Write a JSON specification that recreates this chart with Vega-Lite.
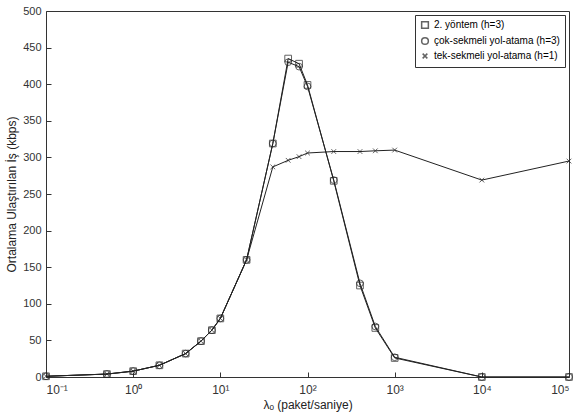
{
  "$schema": "https://vega.github.io/schema/vega-lite/v6.json",
  "width": 580,
  "height": 415,
  "autosize": {"type": "fit", "contains": "padding"},
  "background": "white",
  "config": {
    "font": "Liberation Sans",
    "view": {"stroke": "#333", "strokeWidth": 1},
    "axis": {"grid": false, "domain": false, "tickColor": "#333", "tickSize": -5, "labelPadding": 10, "labelColor": "#333", "titleColor": "#222", "labelFontSize": 11, "titleFontSize": 12, "titleFontWeight": "normal"}
  },
  "data": {
    "values": [
      {"x": 0.1, "y": 1, "s": "2. yöntem (h=3)"},
      {"x": 0.5, "y": 4, "s": "2. yöntem (h=3)"},
      {"x": 1, "y": 8, "s": "2. yöntem (h=3)"},
      {"x": 2, "y": 16, "s": "2. yöntem (h=3)"},
      {"x": 4, "y": 32, "s": "2. yöntem (h=3)"},
      {"x": 6, "y": 49, "s": "2. yöntem (h=3)"},
      {"x": 8, "y": 64, "s": "2. yöntem (h=3)"},
      {"x": 10, "y": 80, "s": "2. yöntem (h=3)"},
      {"x": 20, "y": 160, "s": "2. yöntem (h=3)"},
      {"x": 40, "y": 319, "s": "2. yöntem (h=3)"},
      {"x": 60, "y": 435, "s": "2. yöntem (h=3)"},
      {"x": 80, "y": 428, "s": "2. yöntem (h=3)"},
      {"x": 100, "y": 399, "s": "2. yöntem (h=3)"},
      {"x": 200, "y": 268, "s": "2. yöntem (h=3)"},
      {"x": 400, "y": 125, "s": "2. yöntem (h=3)"},
      {"x": 600, "y": 67, "s": "2. yöntem (h=3)"},
      {"x": 1000, "y": 26, "s": "2. yöntem (h=3)"},
      {"x": 10000, "y": 0, "s": "2. yöntem (h=3)"},
      {"x": 100000, "y": 0, "s": "2. yöntem (h=3)"},
      {"x": 0.1, "y": 1, "s": "çok-sekmeli yol-atama (h=3)"},
      {"x": 0.5, "y": 4, "s": "çok-sekmeli yol-atama (h=3)"},
      {"x": 1, "y": 8, "s": "çok-sekmeli yol-atama (h=3)"},
      {"x": 2, "y": 16, "s": "çok-sekmeli yol-atama (h=3)"},
      {"x": 4, "y": 32, "s": "çok-sekmeli yol-atama (h=3)"},
      {"x": 6, "y": 49, "s": "çok-sekmeli yol-atama (h=3)"},
      {"x": 8, "y": 64, "s": "çok-sekmeli yol-atama (h=3)"},
      {"x": 10, "y": 80, "s": "çok-sekmeli yol-atama (h=3)"},
      {"x": 20, "y": 160, "s": "çok-sekmeli yol-atama (h=3)"},
      {"x": 40, "y": 319, "s": "çok-sekmeli yol-atama (h=3)"},
      {"x": 60, "y": 430, "s": "çok-sekmeli yol-atama (h=3)"},
      {"x": 80, "y": 424, "s": "çok-sekmeli yol-atama (h=3)"},
      {"x": 100, "y": 397, "s": "çok-sekmeli yol-atama (h=3)"},
      {"x": 200, "y": 269, "s": "çok-sekmeli yol-atama (h=3)"},
      {"x": 400, "y": 128, "s": "çok-sekmeli yol-atama (h=3)"},
      {"x": 600, "y": 69, "s": "çok-sekmeli yol-atama (h=3)"},
      {"x": 1000, "y": 27, "s": "çok-sekmeli yol-atama (h=3)"},
      {"x": 10000, "y": 0, "s": "çok-sekmeli yol-atama (h=3)"},
      {"x": 100000, "y": 0, "s": "çok-sekmeli yol-atama (h=3)"},
      {"x": 0.1, "y": 1, "s": "tek-sekmeli yol-atama (h=1)"},
      {"x": 0.5, "y": 4, "s": "tek-sekmeli yol-atama (h=1)"},
      {"x": 1, "y": 8, "s": "tek-sekmeli yol-atama (h=1)"},
      {"x": 2, "y": 16, "s": "tek-sekmeli yol-atama (h=1)"},
      {"x": 4, "y": 32, "s": "tek-sekmeli yol-atama (h=1)"},
      {"x": 6, "y": 49, "s": "tek-sekmeli yol-atama (h=1)"},
      {"x": 8, "y": 64, "s": "tek-sekmeli yol-atama (h=1)"},
      {"x": 10, "y": 80, "s": "tek-sekmeli yol-atama (h=1)"},
      {"x": 20, "y": 160, "s": "tek-sekmeli yol-atama (h=1)"},
      {"x": 40, "y": 287, "s": "tek-sekmeli yol-atama (h=1)"},
      {"x": 60, "y": 296, "s": "tek-sekmeli yol-atama (h=1)"},
      {"x": 80, "y": 301, "s": "tek-sekmeli yol-atama (h=1)"},
      {"x": 100, "y": 306, "s": "tek-sekmeli yol-atama (h=1)"},
      {"x": 200, "y": 308, "s": "tek-sekmeli yol-atama (h=1)"},
      {"x": 400, "y": 308, "s": "tek-sekmeli yol-atama (h=1)"},
      {"x": 600, "y": 309, "s": "tek-sekmeli yol-atama (h=1)"},
      {"x": 1000, "y": 310, "s": "tek-sekmeli yol-atama (h=1)"},
      {"x": 10000, "y": 269, "s": "tek-sekmeli yol-atama (h=1)"},
      {"x": 100000, "y": 295, "s": "tek-sekmeli yol-atama (h=1)"}
    ]
  },
  "encoding": {
    "x": {
      "field": "x", "type": "quantitative",
      "scale": {"type": "log", "domain": [0.1, 100000], "nice": false},
      "axis": {"values": [0.1, 1, 10, 100, 1000, 10000, 100000], "labelExpr": "{'0.1':'10⁻¹','1':'10⁰','10':'10¹','100':'10²','1000':'10³','10000':'10⁴','100000':'10⁵'}[datum.value+'']", "title": "λₒ (paket/saniye)", "labelFontSize": 12, "labelPadding": 12}
    },
    "y": {
      "field": "y", "type": "quantitative",
      "scale": {"domain": [0, 500], "nice": false},
      "axis": {"values": [0, 50, 100, 150, 200, 250, 300, 350, 400, 450, 500], "title": "Ortalama Ulaştırılan İş (kbps)"}
    }
  },
  "layer": [
    {
      "mark": {"type": "line", "color": "#222", "strokeWidth": 1},
      "encoding": {"detail": {"field": "s"}}
    },
    {
      "mark": {"type": "point", "filled": false, "color": "#222", "size": 45, "strokeWidth": 1},
      "encoding": {
        "shape": {
          "field": "s", "type": "nominal",
          "scale": {"domain": ["2. yöntem (h=3)", "çok-sekmeli yol-atama (h=3)", "tek-sekmeli yol-atama (h=1)"], "range": ["square", "circle", "M-0.7,-0.7L0.7,0.7M-0.7,0.7L0.7,-0.7"]},
          "legend": {"title": null, "orient": "top-right", "offset": 4, "strokeColor": "#333", "fillColor": "white", "padding": 5, "labelFontSize": 10, "symbolStrokeColor": "#222", "symbolSize": 45}
        }
      }
    }
  ]
}
